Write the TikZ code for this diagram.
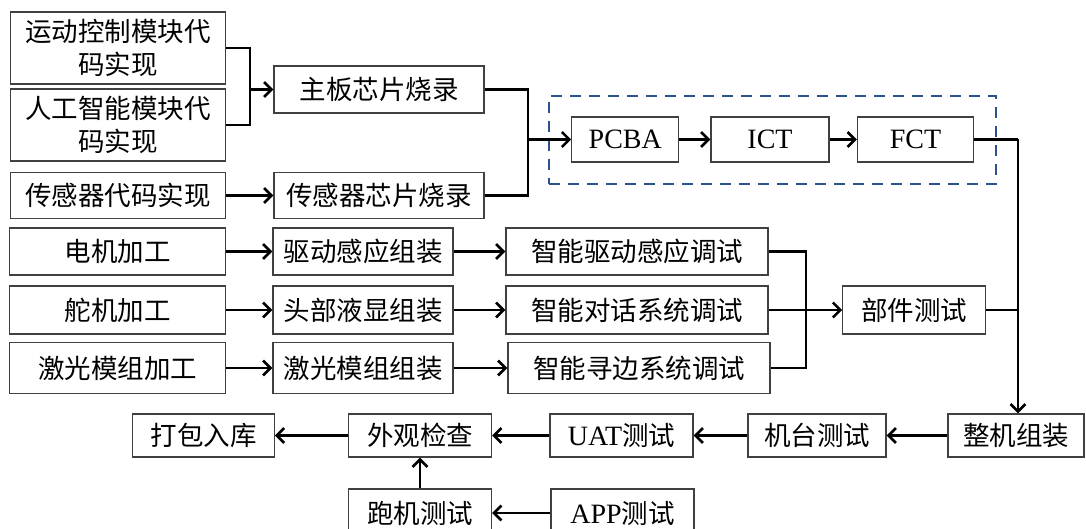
\documentclass[tikz,border=0pt]{standalone}
\usepackage{fontspec}
\setmainfont{Liberation Serif}
\newfontfamily\cjk{Noto Sans CJK SC}
\usetikzlibrary{arrows.meta}
\definecolor{dashblue}{RGB}{44,82,140}
\newcommand\lat[1]{{\rmfamily\fontsize{28}{33}\selectfont #1}}
\begin{document}
\begin{tikzpicture}[x=1pt,y=-1pt,
  box/.style={draw=black!75, line width=1.2pt, inner sep=0pt, align=center,
    font=\cjk\fontsize{26.5}{33}\selectfont, anchor=center},
  conn/.style={line width=2.6pt, black},
  arr/.style={conn, -{Straight Barb[length=7.5pt,width=15pt]}}]
\useasboundingbox (0,0) rectangle (1086,529);
% top block
\node[box, minimum width=215pt, minimum height=72pt] (m1) at (118,48) {运动控制模块代\\码实现};
\node[box, minimum width=215pt, minimum height=72pt] (m2) at (118,125) {人工智能模块代\\码实现};
\node[box, minimum width=215pt, minimum height=46pt] (m3) at (118,195.5) {传感器代码实现};
\node[box, minimum width=210pt, minimum height=47pt] (zb) at (379,89.5) {主板芯片烧录};
\node[box, minimum width=210pt, minimum height=46pt] (cg) at (379,195.5) {传感器芯片烧录};
\node[draw=dashblue, line width=2.5pt, dash pattern=on 11pt off 8pt, minimum width=447pt, minimum height=88pt, inner sep=0pt] (grp) at (772.5,140) {};
\node[box, minimum width=107pt, minimum height=45pt] (pcba) at (625.3,139.5) {\lat{PCBA}};
\node[box, minimum width=118pt, minimum height=45pt] (ict) at (770,139.5) {\lat{ICT}};
\node[box, minimum width=116pt, minimum height=45pt] (fct) at (915.5,139.5) {\lat{FCT}};
% middle block
\node[box, minimum width=216pt, minimum height=47pt] (dj) at (117.8,251.5) {电机加工};
\node[box, minimum width=180pt, minimum height=47pt] (dq) at (363,251.5) {驱动感应组装};
\node[box, minimum width=262pt, minimum height=47pt] (zq) at (637,251.5) {智能驱动感应调试};
\node[box, minimum width=216pt, minimum height=48pt] (dj2) at (117.8,310) {舵机加工};
\node[box, minimum width=180pt, minimum height=48pt] (tb) at (363,310) {头部液显组装};
\node[box, minimum width=262pt, minimum height=48pt] (zd) at (637,310) {智能对话系统调试};
\node[box, minimum width=216pt, minimum height=51pt] (jg) at (117.8,368) {激光模组加工};
\node[box, minimum width=180pt, minimum height=51pt] (jz) at (363,368) {激光模组组装};
\node[box, minimum width=262pt, minimum height=51pt] (zx) at (639,368) {智能寻边系统调试};
\node[box, minimum width=143pt, minimum height=48pt] (bj) at (914.3,310) {部件测试};
% bottom block
\node[box, minimum width=136pt, minimum height=43pt] (zz) at (1016,435.5) {整机组装};
\node[box, minimum width=138pt, minimum height=43pt] (jt) at (817,435.5) {机台测试};
\node[box, minimum width=143pt, minimum height=43pt] (uat) at (621.5,435.5) {\lat{UAT}测试};
\node[box, minimum width=143pt, minimum height=43pt] (wg) at (420,435.5) {外观检查};
\node[box, minimum width=141.5pt, minimum height=43pt] (db) at (203.5,435.5) {打包入库};
\node[box, minimum width=143pt, minimum height=48pt] (pj) at (420,513) {跑机测试};
\node[box, minimum width=143pt, minimum height=48pt] (app) at (622.5,513) {\lat{APP}测试};
% connectors
\coordinate (j1) at (250,89.5);
\draw[conn] (m1.east) -| (j1) |- (m2.east);
\draw[arr] (j1) -- (zb.west);
\coordinate (j2) at (528,139.5);
\draw[conn] (zb.east) -| (j2) |- (cg.east);
\draw[arr] (j2) -- (pcba.west);
\draw[arr] (m3.east) -- (cg.west);
\draw[arr] (pcba.east) -- (ict.west);
\draw[arr] (ict.east) -- (fct.west);
\coordinate (j3) at (1018,139.5);
\draw[conn] (fct.east) -- (j3);
\draw[arr] (j3) -- (j3 |- zz.north);
\draw[conn] (bj.east) -- (bj.east -| j3);
\draw[arr] (dj.east) -- (dq.west);
\draw[arr] (dq.east) -- (zq.west);
\draw[arr] (dj2.east) -- (tb.west);
\draw[arr] (tb.east) -- (zd.west);
\draw[arr] (jg.east) -- (jz.west);
\draw[arr] (jz.east) -- (zx.west);
\coordinate (j4) at (806,310);
\draw[conn] (zq.east) -| (j4) |- (zx.east);
\draw[arr] (zd.east) -- (bj.west);
\draw[arr] (zz.west) -- (jt.east);
\draw[arr] (jt.west) -- (uat.east);
\draw[arr] (uat.west) -- (wg.east);
\draw[arr] (wg.west) -- (db.east);
\draw[arr] (pj.north) -- (wg.south);
\draw[arr] (app.west) -- (pj.east);
\end{tikzpicture}
\end{document}
